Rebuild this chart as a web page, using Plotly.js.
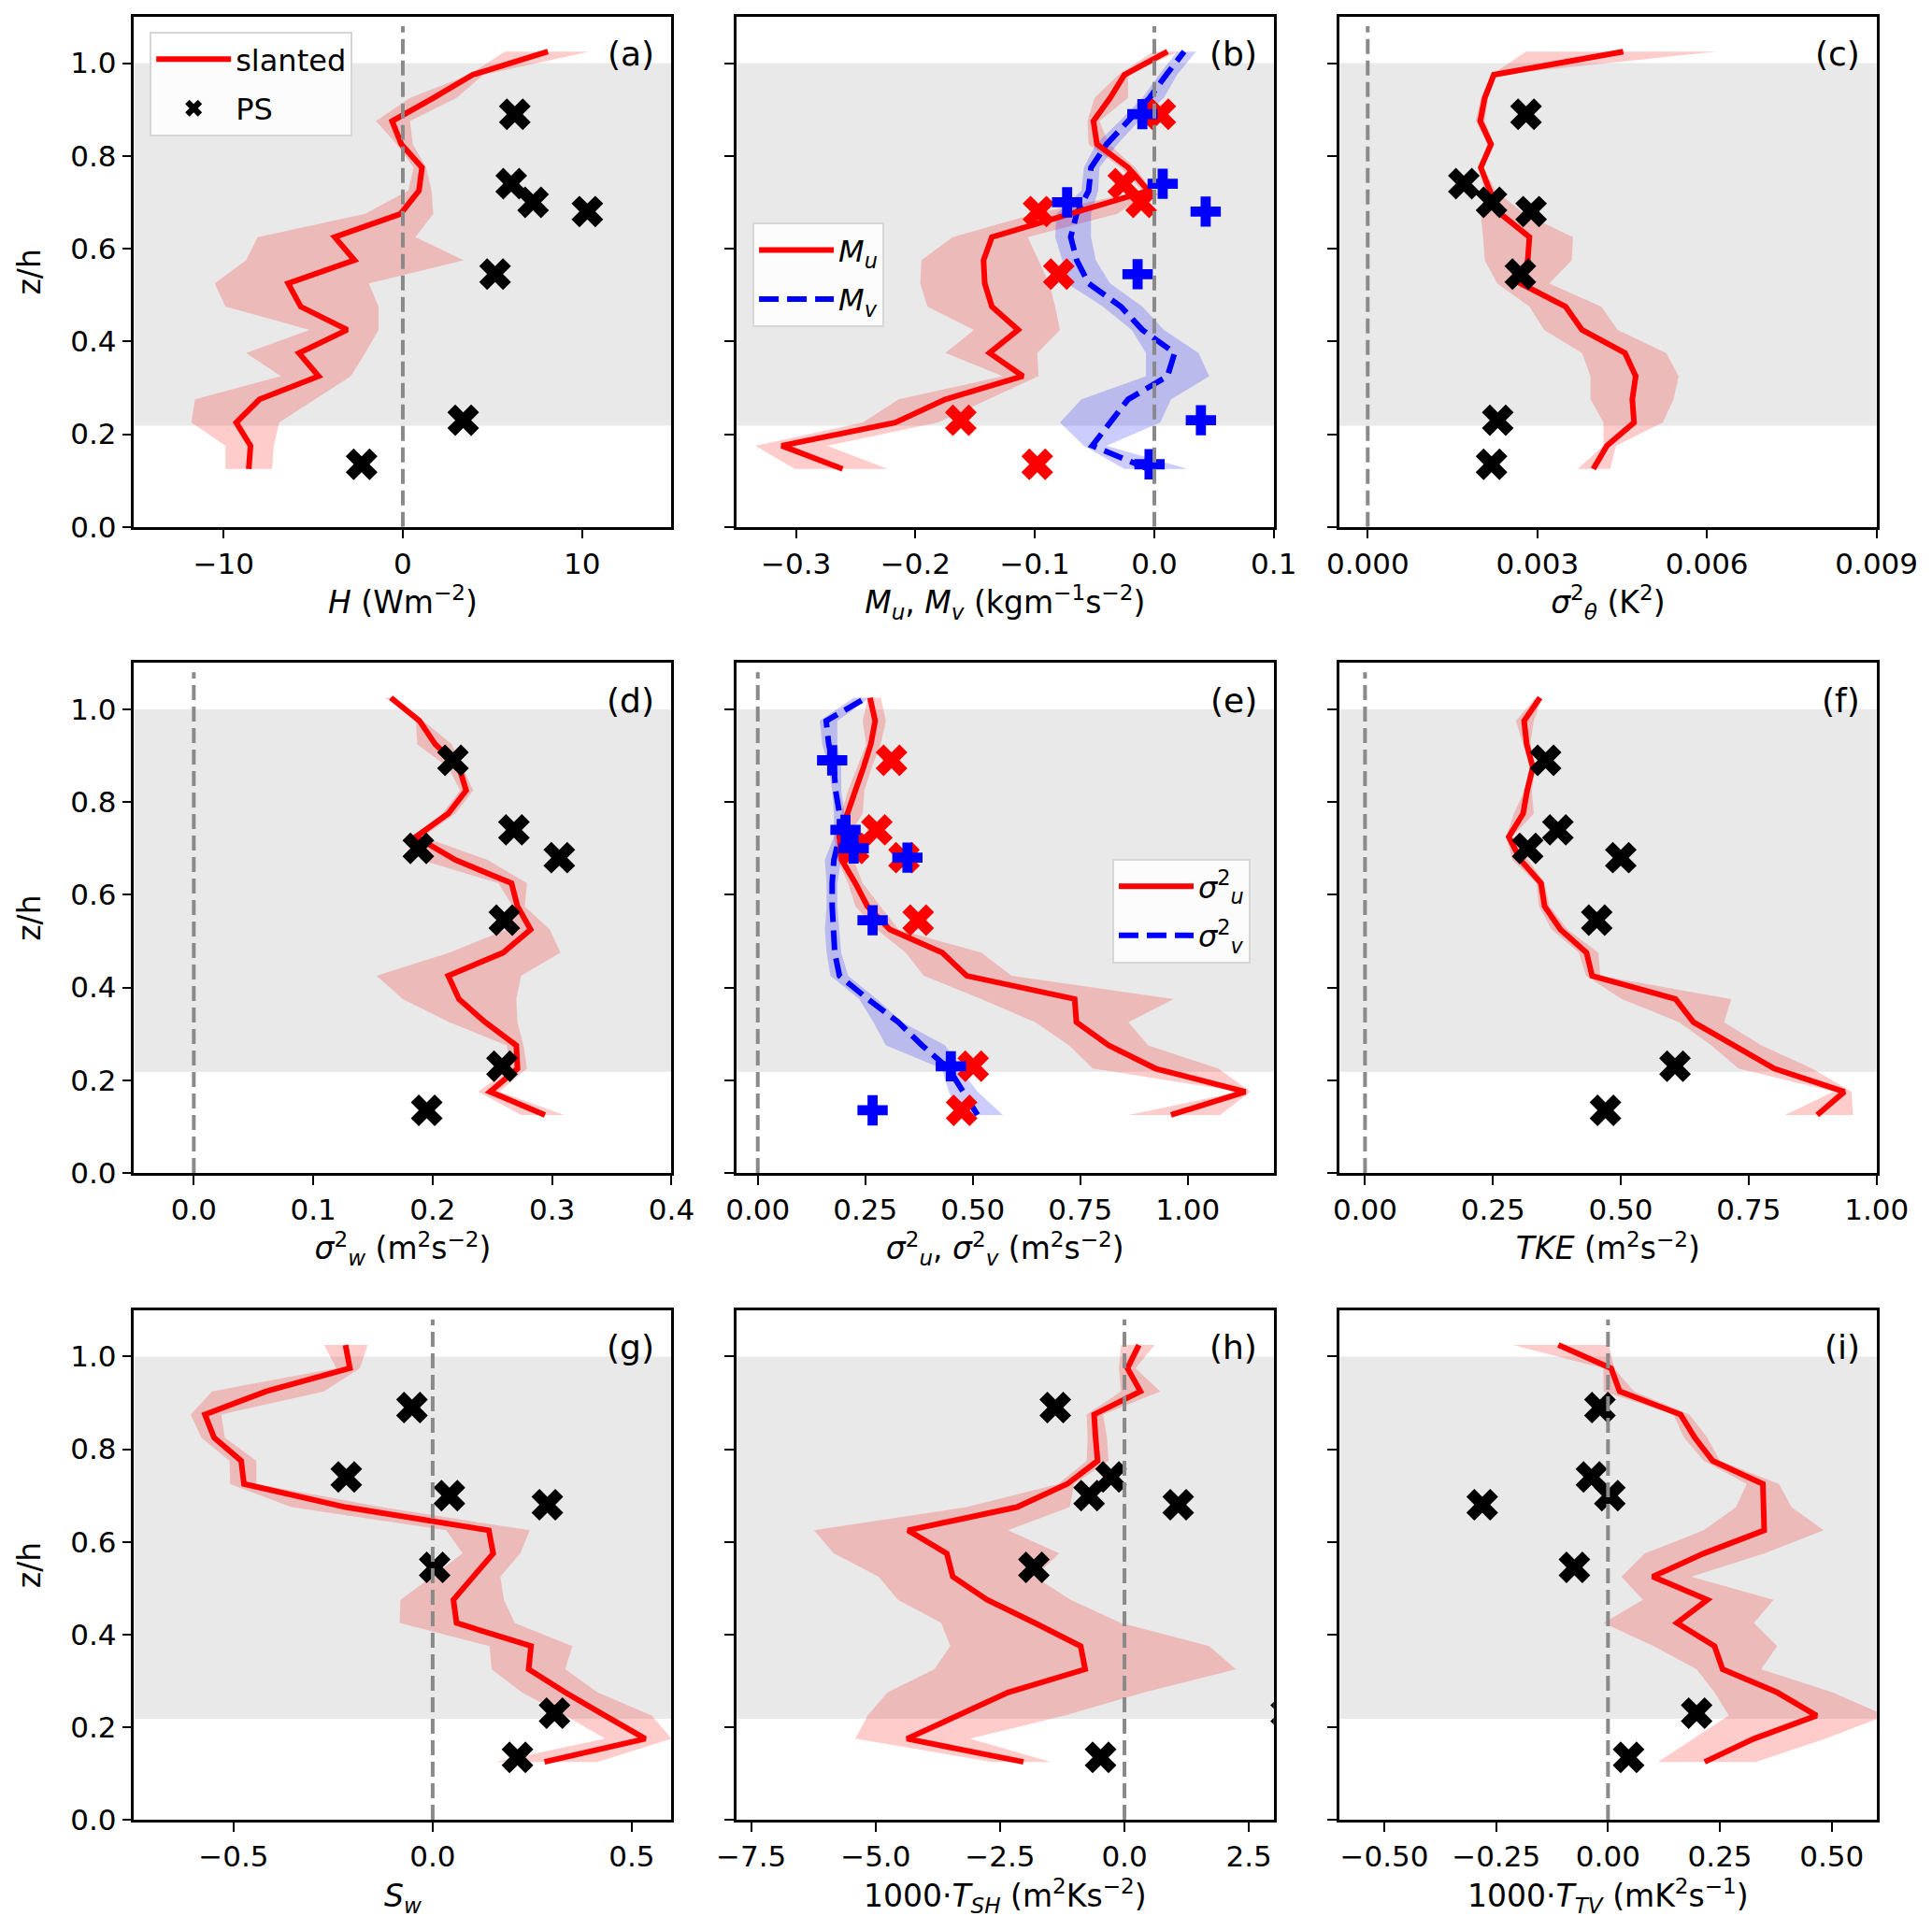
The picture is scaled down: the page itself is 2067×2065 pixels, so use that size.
<!DOCTYPE html>
<html>
<head>
<meta charset="utf-8">
<script src="https://cdn.plot.ly/plotly-3.0.1.min.js"></script>
<style>
    body { margin: 0; background: white; }
</style>
</head>
<body>
<div id="profiles" style="width:2067px;height:2065px"></div>
<script>
// heights of the slanted profile levels and of the PS stations (z/h)
const z_levels = [0.125, 0.175, 0.225, 0.275, 0.325, 0.375, 0.425, 0.475, 0.525, 0.575,
                  0.625, 0.675, 0.725, 0.775, 0.825, 0.875, 0.925, 0.975, 1.025]
const ps_z = [0.89, 0.74, 0.70, 0.68, 0.545, 0.23, 0.135]

// (a) sensible heat flux
const H_mean = [-8.6, -8.5, -9.3, -8.0, -4.7, -5.8, -3.1, -5.7, -6.4, -2.7, -3.8, -0.13, 0.9, 1.07, -0.08, -0.6, 1.7, 3.9, 8.1]
const H_lo   = [-9.9, -9.9, -11.8, -11.6, -6.8, -8.75, -5.2, -9.9, -10.5, -8.75, -8.1, -2.1, 0.3, 0.6, -0.33, -1.5, 0.4, 3.7, 5.7]
const H_hi   = [-7.3, -7.2, -6.9, -4.9, -2.9, -2.1, -1.35, -1.35, -1.9, 3.4, 0.7, 1.7, 1.6, 1.3, 0.56, 0.4, 3.0, 4.5, 10.4]
const H_ps   = [6.25, 6.05, 7.27, 10.3, 5.15, 3.37, -2.3]

// (b) momentum fluxes
const Mu_mean = [-0.261, -0.312, -0.217, -0.175, -0.110, -0.138, -0.114, -0.136, -0.142, -0.143, -0.136, -0.070, -0.005, -0.022, -0.048, -0.051, -0.037, -0.025, 0.011]
const Mu_lo   = [-0.301, -0.334, -0.244, -0.214, -0.127, -0.175, -0.151, -0.190, -0.196, -0.195, -0.169, -0.100, -0.010, -0.028, -0.055, -0.056, -0.050, -0.030, -0.001]
const Mu_hi   = [-0.223, -0.274, -0.181, -0.139, -0.097, -0.098, -0.079, -0.083, -0.088, -0.097, -0.106, -0.031, -0.002, -0.016, -0.038, -0.046, -0.022, -0.022, 0.020]
const Mv_mean = [-0.005, -0.052, -0.037, -0.022, 0.011, 0.017, -0.010, -0.028, -0.055, -0.065, -0.070, -0.065, -0.055, -0.053, -0.040, -0.022, -0.004, 0.010, 0.025]
const Mv_lo   = [-0.025, -0.059, -0.079, -0.061, -0.007, -0.007, -0.019, -0.043, -0.073, -0.077, -0.083, -0.082, -0.061, -0.059, -0.049, -0.029, -0.010, 0.004, 0.019]
const Mv_hi   = [0.028, -0.040, 0.005, 0.014, 0.046, 0.037, 0.008, -0.010, -0.037, -0.049, -0.053, -0.053, -0.047, -0.046, -0.031, -0.013, 0.008, 0.019, 0.035]
const Mu_ps   = [0.005, -0.026, -0.011, -0.097, -0.080, -0.162, -0.098]
const Mv_ps   = [-0.010, 0.007, -0.073, 0.043, -0.014, 0.039, -0.004]

// (c) temperature variance
const th_mean = [0.00399, 0.00423, 0.00471, 0.00468, 0.00474, 0.00455, 0.00379, 0.00350, 0.00270, 0.00283, 0.00286, 0.00235, 0.00216, 0.00200, 0.00218, 0.00199, 0.00207, 0.00223, 0.00452]
const th_lo   = [0.00371, 0.00417, 0.00417, 0.00394, 0.00394, 0.00379, 0.00312, 0.00286, 0.00229, 0.00207, 0.00204, 0.00200, 0.00207, 0.00196, 0.00212, 0.00191, 0.00200, 0.00219, 0.00280]
const th_hi   = [0.00429, 0.00439, 0.00522, 0.00541, 0.00550, 0.00528, 0.00442, 0.00413, 0.00321, 0.00361, 0.00363, 0.00277, 0.00226, 0.00205, 0.00224, 0.00207, 0.00213, 0.00229, 0.00617]
const th_ps   = [0.00280, 0.00170, 0.00219, 0.00289, 0.00270, 0.00230, 0.00219]

// (d) vertical velocity variance
const w_mean = [0.294, 0.248, 0.271, 0.270, 0.244, 0.222, 0.213, 0.259, 0.282, 0.271, 0.266, 0.219, 0.186, 0.213, 0.228, 0.222, 0.202, 0.189, 0.165]
const w_lo   = [0.274, 0.238, 0.265, 0.262, 0.214, 0.175, 0.153, 0.214, 0.262, 0.267, 0.255, 0.190, 0.184, 0.208, 0.223, 0.213, 0.187, 0.186, 0.160]
const w_hi   = [0.310, 0.256, 0.279, 0.276, 0.271, 0.270, 0.274, 0.307, 0.298, 0.277, 0.279, 0.246, 0.192, 0.219, 0.234, 0.225, 0.216, 0.192, 0.166]
const w_ps   = [0.217, 0.268, 0.188, 0.306, 0.260, 0.258, 0.195]

// (e) horizontal velocity variances
const u_mean = [0.961, 1.134, 0.925, 0.816, 0.741, 0.737, 0.486, 0.429, 0.307, 0.255, 0.227, 0.195, 0.190, 0.210, 0.227, 0.246, 0.263, 0.273, 0.261]
const u_lo   = [0.862, 1.121, 0.779, 0.724, 0.645, 0.520, 0.386, 0.344, 0.277, 0.227, 0.210, 0.185, 0.177, 0.194, 0.210, 0.231, 0.252, 0.244, 0.256]
const u_hi   = [1.075, 1.146, 1.071, 0.908, 0.862, 0.967, 0.590, 0.520, 0.327, 0.286, 0.244, 0.223, 0.210, 0.244, 0.248, 0.265, 0.286, 0.298, 0.286]
const v_mean = [0.511, 0.478, 0.444, 0.382, 0.327, 0.256, 0.190, 0.179, 0.175, 0.173, 0.173, 0.177, 0.190, 0.190, 0.181, 0.177, 0.165, 0.159, 0.252]
const v_lo   = [0.470, 0.444, 0.428, 0.298, 0.269, 0.236, 0.169, 0.160, 0.156, 0.160, 0.160, 0.156, 0.177, 0.177, 0.173, 0.165, 0.150, 0.144, 0.223]
const v_hi   = [0.570, 0.511, 0.470, 0.436, 0.336, 0.277, 0.210, 0.194, 0.190, 0.185, 0.185, 0.194, 0.202, 0.202, 0.194, 0.194, 0.185, 0.185, 0.261]
const u_ps   = [0.311, 0.277, 0.223, 0.340, 0.373, 0.501, 0.474]
const v_ps   = [0.173, 0.204, 0.223, 0.348, 0.267, 0.449, 0.267]

// (f) turbulent kinetic energy
const tke_mean = [0.884, 0.937, 0.800, 0.723, 0.642, 0.607, 0.444, 0.433, 0.382, 0.351, 0.344, 0.304, 0.281, 0.309, 0.317, 0.328, 0.316, 0.311, 0.342]
const tke_lo   = [0.821, 0.916, 0.730, 0.677, 0.614, 0.502, 0.432, 0.418, 0.365, 0.340, 0.335, 0.288, 0.276, 0.291, 0.312, 0.322, 0.309, 0.295, 0.333]
const tke_hi   = [0.954, 0.951, 0.874, 0.775, 0.702, 0.716, 0.460, 0.456, 0.396, 0.361, 0.351, 0.319, 0.288, 0.330, 0.326, 0.333, 0.323, 0.330, 0.346]
const tke_ps   = [0.353, 0.377, 0.318, 0.500, 0.453, 0.606, 0.470]

// (g) vertical velocity skewness
const Sw_mean = [0.281, 0.534, 0.433, 0.333, 0.241, 0.247, 0.060, 0.052, 0.102, 0.152, 0.141, -0.219, -0.474, -0.481, -0.549, -0.572, -0.418, -0.208, -0.219]
const Sw_lo   = [0.157, 0.433, 0.333, 0.224, 0.148, 0.143, -0.083, -0.081, -0.002, 0.075, 0.034, -0.355, -0.509, -0.510, -0.581, -0.608, -0.554, -0.242, -0.273]
const Sw_hi   = [0.414, 0.600, 0.550, 0.414, 0.333, 0.351, 0.206, 0.179, 0.170, 0.220, 0.244, -0.128, -0.443, -0.443, -0.522, -0.531, -0.273, -0.183, -0.163]
const Sw_ps   = [-0.052, -0.217, 0.042, 0.288, 0.005, 0.306, 0.213]

// (h) shear production transport
const Tsh_mean = [-2.03, -4.37, -3.35, -2.34, -0.79, -0.88, -1.80, -2.76, -3.45, -3.57, -4.35, -2.16, -1.15, -0.54, -0.58, -0.61, 0.32, 0.06, 0.29]
const Tsh_lo   = [-2.67, -5.41, -5.16, -4.76, -3.82, -3.50, -3.68, -4.55, -4.94, -5.84, -6.24, -3.17, -1.33, -0.76, -0.74, -0.76, -0.07, -0.11, -0.07]
const Tsh_hi   = [-1.48, -3.10, -1.20, 0.40, 2.24, 1.70, -0.07, -1.08, -1.80, -1.31, -2.34, -1.10, -1.01, -0.32, -0.35, -0.43, 0.72, 0.22, 0.61]
const Tsh_ps   = [-1.39, -0.27, -0.71, 1.08, -1.82, 3.25, -0.48]

// (i) temperature variance transport
const Ttv_mean = [0.216, 0.326, 0.466, 0.378, 0.256, 0.238, 0.154, 0.222, 0.100, 0.214, 0.349, 0.349, 0.346, 0.234, 0.194, 0.162, 0.026, 0.007, -0.111]
const Ttv_lo   = [0.112, 0.190, 0.270, 0.238, 0.198, 0.102, -0.010, 0.078, 0.030, 0.082, 0.214, 0.286, 0.310, 0.214, 0.170, 0.146, -0.010, -0.010, -0.213]
const Ttv_hi   = [0.330, 0.486, 0.620, 0.502, 0.342, 0.378, 0.326, 0.370, 0.186, 0.350, 0.482, 0.410, 0.382, 0.250, 0.222, 0.182, 0.058, 0.014, 0.002]
const Ttv_ps   = [-0.018, -0.037, 0.004, -0.281, -0.075, 0.198, 0.046]

const z_ticks = [0.0, 0.2, 0.4, 0.6, 0.8, 1.0]

const RED = "rgb(255,0,0)"
const BLUE = "rgb(0,0,255)"
const RED_FILL = "rgba(255,0,0,0.2)"
const BLUE_FILL = "rgba(0,0,255,0.2)"
const FONT = "DejaVu Sans"
const TICK_FS = 31
const LABEL_FS = 33
const TAG_FS = 36
const LEGEND_FS = 32

const col_domains = [[0.0694, 0.3476], [0.3811, 0.6593], [0.6933, 0.9713]]
const row_domains = [[0.7270, 0.9913], [0.3923, 0.6565], [0.0571, 0.3211]]

const panels = [
    { tag: "(a)", range: [-15, 15], ticks: [-10, 0, 10], fmt: "d",
      title: "<i>H</i> (Wm<sup>−2</sup>)" },
    { tag: "(b)", range: [-0.35, 0.1], ticks: [-0.3, -0.2, -0.1, 0.0, 0.1], fmt: ".1f",
      title: "<i>M<sub>u</sub></i>, <i>M<sub>v</sub></i> (kgm<sup>−1</sup>s<sup>−2</sup>)" },
    { tag: "(c)", range: [-0.0005, 0.009], ticks: [0, 0.003, 0.006, 0.009], fmt: ".3f",
      title: "<i>σ</i><sup>2</sup><sub><i>θ</i></sub> (K<sup>2</sup>)" },
    { tag: "(d)", range: [-0.05, 0.4], ticks: [0, 0.1, 0.2, 0.3, 0.4], fmt: ".1f",
      title: "<i>σ</i><sup>2</sup><sub><i>w</i></sub> (m<sup>2</sup>s<sup>−2</sup>)" },
    { tag: "(e)", range: [-0.05, 1.2], ticks: [0, 0.25, 0.5, 0.75, 1.0], fmt: ".2f",
      title: "<i>σ</i><sup>2</sup><sub><i>u</i></sub>, <i>σ</i><sup>2</sup><sub><i>v</i></sub> (m<sup>2</sup>s<sup>−2</sup>)" },
    { tag: "(f)", range: [-0.05, 1.0], ticks: [0, 0.25, 0.5, 0.75, 1.0], fmt: ".2f",
      title: "<i>TKE</i> (m<sup>2</sup>s<sup>−2</sup>)" },
    { tag: "(g)", range: [-0.75, 0.6], ticks: [-0.5, 0, 0.5], fmt: ".1f",
      title: "<i>S<sub>w</sub></i>" },
    { tag: "(h)", range: [-7.8, 3.0], ticks: [-7.5, -5, -2.5, 0, 2.5], fmt: ".1f",
      title: "1000·<i>T<sub>SH</sub></i> (m<sup>2</sup>Ks<sup>−2</sup>)" },
    { tag: "(i)", range: [-0.6, 0.6], ticks: [-0.5, -0.25, 0, 0.25, 0.5], fmt: ".2f",
      title: "1000·<i>T<sub>TV</sub></i> (mK<sup>2</sup>s<sup>−1</sup>)" },
]

function ax_names(i)
{
    const n = i === 0 ? "" : String(i + 1)
    return { x: "x" + n, y: "y" + n, xl: "xaxis" + n, yl: "yaxis" + n }
}

function band(i, lo, hi, color)
{
    const a = ax_names(i)
    return {
        x: lo.concat(hi.slice().reverse()),
        y: z_levels.concat(z_levels.slice().reverse()),
        xaxis: a.x, yaxis: a.y,
        mode: "lines", fill: "toself", fillcolor: color,
        line: { width: 0 }, hoverinfo: "skip", showlegend: false
    }
}

function profile(i, vals, color, dash, name, legend, rank)
{
    const a = ax_names(i)
    return {
        x: vals, y: z_levels, xaxis: a.x, yaxis: a.y,
        mode: "lines", name: name,
        line: { color: color, width: 6, dash: dash },
        showlegend: legend !== undefined, legend: legend,
        legendgroup: name, legendrank: rank
    }
}

function ps_marks(i, vals, color, symbol, name, legend, rank)
{
    const a = ax_names(i)
    return {
        x: vals, y: ps_z, xaxis: a.x, yaxis: a.y,
        mode: "markers", name: name,
        marker: { color: color, symbol: symbol, size: symbol === "x" ? 30 : 27, line: { width: 0 } },
        showlegend: legend !== undefined, legend: legend,
        legendgroup: name, legendrank: rank
    }
}

const DASH_V = "21px,9px"

const data = [
    band(0, H_lo, H_hi, RED_FILL),
    profile(0, H_mean, RED, "solid", "slanted", "legend", 1),
    ps_marks(0, H_ps, "black", "x", "PS", "legend", 2),

    band(1, Mu_lo, Mu_hi, RED_FILL),
    band(1, Mv_lo, Mv_hi, BLUE_FILL),
    profile(1, Mv_mean, BLUE, DASH_V, "<i>M<sub>v</sub></i>", "legend2", 2),
    profile(1, Mu_mean, RED, "solid", "<i>M<sub>u</sub></i>", "legend2", 1),
    ps_marks(1, Mu_ps, RED, "x"),
    ps_marks(1, Mv_ps, BLUE, "cross"),

    band(2, th_lo, th_hi, RED_FILL),
    profile(2, th_mean, RED, "solid"),
    ps_marks(2, th_ps, "black", "x"),

    band(3, w_lo, w_hi, RED_FILL),
    profile(3, w_mean, RED, "solid"),
    ps_marks(3, w_ps, "black", "x"),

    band(4, u_lo, u_hi, RED_FILL),
    band(4, v_lo, v_hi, BLUE_FILL),
    profile(4, v_mean, BLUE, DASH_V, "<i>σ</i><sup>2</sup><sub><i>v</i></sub>", "legend3", 2),
    profile(4, u_mean, RED, "solid", "<i>σ</i><sup>2</sup><sub><i>u</i></sub>", "legend3", 1),
    ps_marks(4, u_ps, RED, "x"),
    ps_marks(4, v_ps, BLUE, "cross"),

    band(5, tke_lo, tke_hi, RED_FILL),
    profile(5, tke_mean, RED, "solid"),
    ps_marks(5, tke_ps, "black", "x"),

    band(6, Sw_lo, Sw_hi, RED_FILL),
    profile(6, Sw_mean, RED, "solid"),
    ps_marks(6, Sw_ps, "black", "x"),

    band(7, Tsh_lo, Tsh_hi, RED_FILL),
    profile(7, Tsh_mean, RED, "solid"),
    ps_marks(7, Tsh_ps, "black", "x"),

    band(8, Ttv_lo, Ttv_hi, RED_FILL),
    profile(8, Ttv_mean, RED, "solid"),
    ps_marks(8, Ttv_ps, "black", "x"),
]

const legend_style = {
    bgcolor: "rgba(255,255,255,0.85)",
    bordercolor: "#d6d6d6",
    borderwidth: 2,
    font: { family: FONT, size: LEGEND_FS, color: "black" },
    itemwidth: 80,
    xanchor: "left",
    yanchor: "top",
    traceorder: "grouped",
    tracegroupgap: 8
}

const layout = {
    width: 2067,
    height: 2065,
    margin: { l: 0, r: 0, t: 0, b: 0 },
    paper_bgcolor: "white",
    plot_bgcolor: "white",
    font: { family: FONT, size: TICK_FS, color: "black" },
    showlegend: true,
    legend: Object.assign({}, legend_style, { x: 0.0775, y: 0.9836 }),
    legend2: Object.assign({}, legend_style, { x: 0.3895, y: 0.8847 }),
    legend3: Object.assign({}, legend_style, { x: 0.5757, y: 0.5550 }),
    shapes: [],
    annotations: []
}

panels.forEach(function (p, i) {
    const a = ax_names(i)
    const col = i % 3
    const row = Math.floor(i / 3)

    layout[a.xl] = {
        domain: col_domains[col],
        anchor: a.y,
        range: p.range,
        tickmode: "array",
        tickvals: p.ticks,
        tickformat: p.fmt,
        ticks: "outside", ticklen: 10, tickwidth: 2, tickcolor: "black",
        showline: true, mirror: true, linecolor: "black", linewidth: 2.5,
        showgrid: false, zeroline: false, automargin: false,
        tickfont: { family: FONT, size: TICK_FS, color: "black" },
        title: { text: p.title, font: { family: FONT, size: LABEL_FS, color: "black" }, standoff: 14 }
    }
    layout[a.yl] = {
        domain: row_domains[row],
        anchor: a.x,
        range: [0, 1.1],
        tickmode: "array",
        tickvals: z_ticks,
        tickformat: ".1f",
        showticklabels: col === 0,
        ticks: "outside", ticklen: 10, tickwidth: 2, tickcolor: "black",
        showline: true, mirror: true, linecolor: "black", linewidth: 2.5,
        showgrid: false, zeroline: false, automargin: false,
        tickfont: { family: FONT, size: TICK_FS, color: "black" },
        title: { text: col === 0 ? "z/h" : "", font: { family: FONT, size: LABEL_FS, color: "black" }, standoff: 22 }
    }

    // grey band marking the canopy layer
    layout.shapes.push({
        type: "rect", layer: "below",
        xref: a.x + " domain", x0: 0, x1: 1,
        yref: a.y, y0: 0.218, y1: 1.0,
        fillcolor: "#e9e9e9", line: { width: 0 }
    })
    // zero reference line
    layout.shapes.push({
        type: "line", layer: "above",
        xref: a.x, x0: 0, x1: 0,
        yref: a.y, y0: 0, y1: 1.08,
        line: { color: "#8a8a8a", width: 4, dash: "16px,7px" }
    })
    layout.annotations.push({
        text: p.tag, showarrow: false,
        xref: a.x + " domain", yref: a.y + " domain",
        x: 0.972, y: 0.968, xanchor: "right", yanchor: "top",
        font: { family: FONT, size: TAG_FS, color: "black" }
    })
})

Plotly.newPlot("profiles", data, layout, { displaylogo: false, displayModeBar: false })
</script>
</body>
</html>
